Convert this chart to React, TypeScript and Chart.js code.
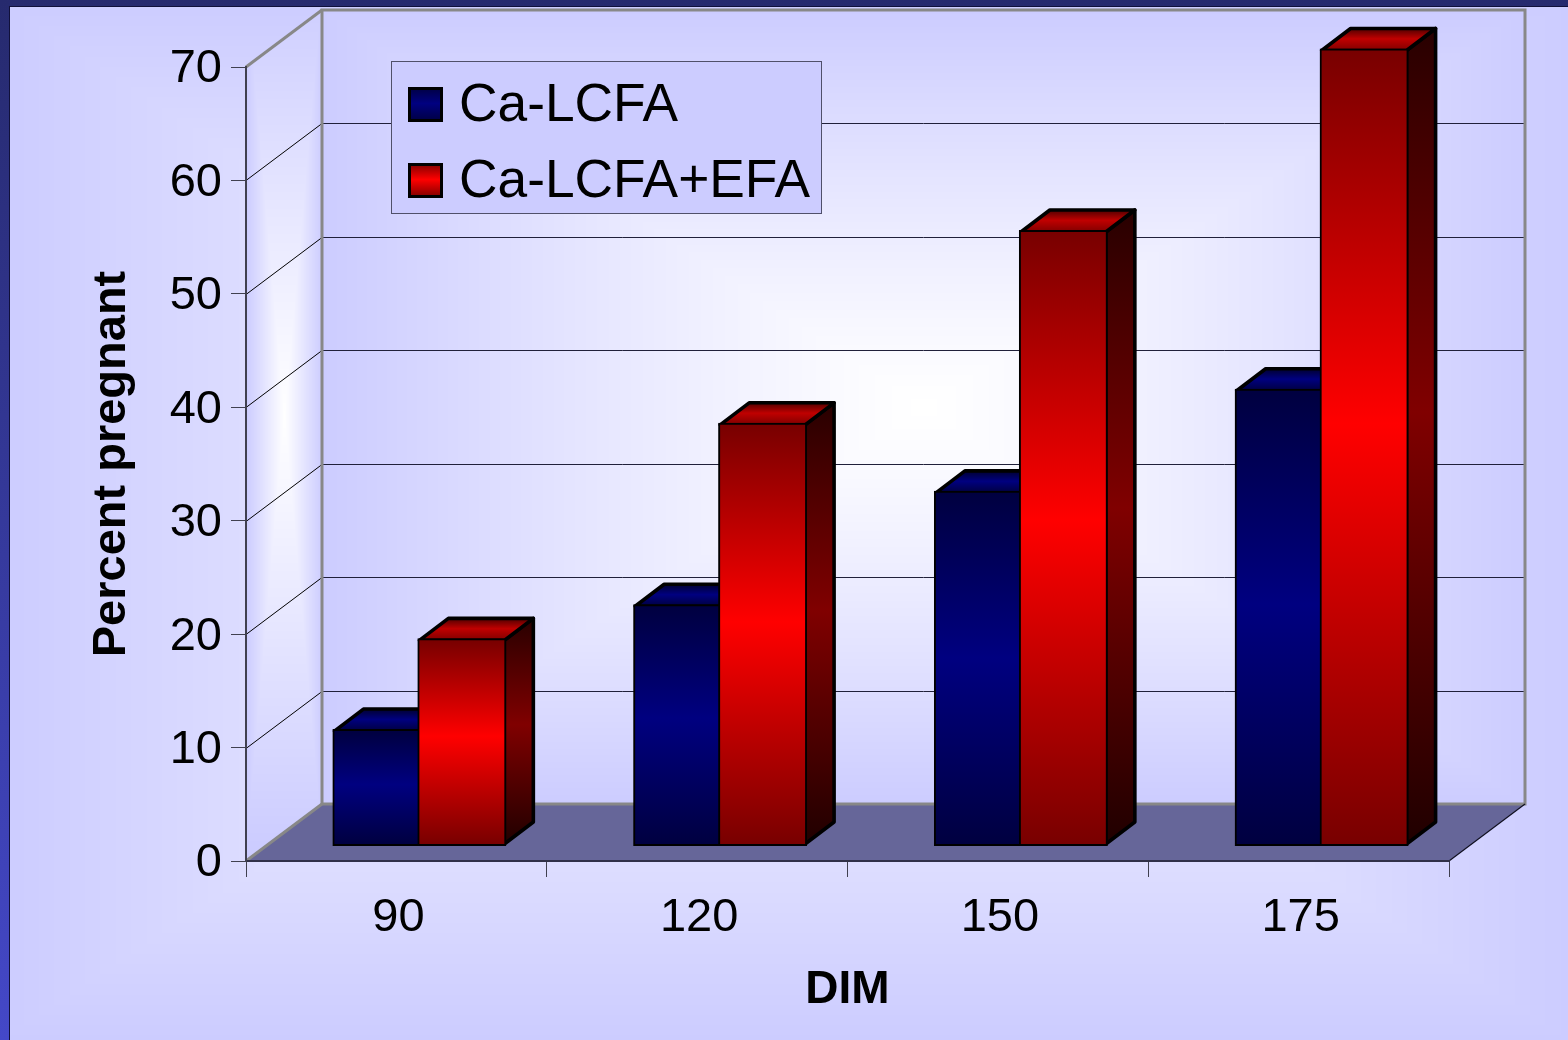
import React, { useEffect, useRef } from "react";
import { Chart, registerables } from "chart.js";

Chart.register(...registerables);

const categories = ["90", "120", "150", "175"];
const caLcfa = [10, 21, 31, 40];
const caLcfaEfa = [18, 37, 54, 70];
const seriesNames = ["Ca-LCFA", "Ca-LCFA+EFA"];
const yAxisTitle = "Percent pregnant";
const xAxisTitle = "DIM";

const FONT = '"Liberation Sans", Arial, sans-serif';
const WALL_DX = 76;
const WALL_DY = -57;
const BAR_SHIFT_X = 23;
const BAR_SHIFT_Y = -16.5;
const BAR_DEPTH_X = 29;
const BAR_DEPTH_Y = -22;
const MID_STOP = 0.47;

const palettes = [
  {
    front: ["#000040", "#000080", "#000040"],
    side: ["#000014", "#000040", "#000010"],
    top: ["#000030", "#000080", "#000040"],
  },
  {
    front: ["#780000", "#ff0000", "#780000"],
    side: ["#280000", "#800000", "#200000"],
    top: ["#500000", "#c00000", "#800000"],
  },
];

function verticalGradient(ctx: CanvasRenderingContext2D, y0: number, y1: number, stops: string[]) {
  const g = ctx.createLinearGradient(0, y0, 0, y1);
  g.addColorStop(0, stops[0]);
  g.addColorStop(MID_STOP, stops[1]);
  g.addColorStop(1, stops[2]);
  return g;
}

function polygon(ctx: CanvasRenderingContext2D, pts: number[][]) {
  ctx.beginPath();
  pts.forEach(([x, y], i) => (i ? ctx.lineTo(x, y) : ctx.moveTo(x, y)));
  ctx.closePath();
}

function line(ctx: CanvasRenderingContext2D, x0: number, y0: number, x1: number, y1: number, color: string, width: number) {
  ctx.strokeStyle = color;
  ctx.lineWidth = width;
  ctx.beginPath();
  ctx.moveTo(x0, y0);
  ctx.lineTo(x1, y1);
  ctx.stroke();
}

// Rectangular "path" gradient: white at the centre, #ccccff at the box edge.
function pathGradient(
  ctx: CanvasRenderingContext2D,
  x: number,
  y: number,
  w: number,
  h: number,
  cx: number,
  cy: number,
  hw: number,
  hh: number,
  falloff = 1,
) {
  const off = document.createElement("canvas");
  off.width = w;
  off.height = h;
  const octx = off.getContext("2d")!;
  const img = octx.createImageData(w, h);
  for (let j = 0; j < h; j++) {
    const ty = Math.abs(y + j - cy) / hh;
    for (let i = 0; i < w; i++) {
      const t = Math.min(1, Math.max(Math.abs(x + i - cx) / hw, ty));
      const v = Math.round(255 - 51 * t ** falloff);
      const p = (j * w + i) * 4;
      img.data[p] = v;
      img.data[p + 1] = v;
      img.data[p + 2] = 255;
      img.data[p + 3] = 255;
    }
  }
  octx.putImageData(img, 0, 0);
  ctx.drawImage(off, x, y);
}

// Slide backdrop: dark frame on the top and left, pale glow in the panel.
function drawBackdrop(ctx: CanvasRenderingContext2D, w: number, h: number) {
  const frame = ctx.createLinearGradient(0, 0, 0, h);
  frame.addColorStop(0, "#262a6e");
  frame.addColorStop(1, "#4448c8");
  ctx.fillStyle = frame;
  ctx.fillRect(0, 0, w, h);
  ctx.fillStyle = "#10103a";
  ctx.fillRect(9, 6, w - 9, h - 6);
  pathGradient(ctx, 10, 7, w - 10, h - 7, 784, 520, 784, 520);
}

const chartFrame = {
  id: "chartFrame",
  beforeDraw(chart: any) {
    const { ctx, width, height } = chart;
    const { y } = chart.scales;
    const { left, right, top, bottom } = chart.chartArea;
    ctx.save();
    drawBackdrop(ctx, width, height);

    const backLeft = left + WALL_DX;
    const backRight = right + WALL_DX;
    const backTop = top + WALL_DY;
    const backBottom = bottom + WALL_DY;

    // Back wall.
    pathGradient(
      ctx,
      backLeft,
      backTop,
      backRight - backLeft,
      backBottom - backTop,
      (backLeft + backRight) / 2,
      (backTop + backBottom) / 2,
      (backRight - backLeft) / 2,
      (backBottom - backTop) / 2,
      1.2,
    );

    // Side wall, clipped to its slanted outline.
    ctx.save();
    polygon(ctx, [[left, top], [backLeft, backTop], [backLeft, backBottom], [left, bottom]]);
    ctx.clip();
    pathGradient(ctx, left, backTop, WALL_DX, bottom - backTop, left + WALL_DX / 2, 415, WALL_DX / 2, 430);
    ctx.restore();

    // Floor.
    polygon(ctx, [[left, bottom], [right, bottom], [backRight, backBottom], [backLeft, backBottom]]);
    ctx.fillStyle = "#666699";
    ctx.fill();

    // Gridlines on both walls, taken from the value axis.
    for (const tick of y.ticks) {
      if (tick.value === 0 || tick.value === y.max) continue;
      const py = Math.round(y.getPixelForValue(tick.value)) + 0.5;
      line(ctx, left, py, backLeft, py + WALL_DY, "#000000", 1);
      line(ctx, backLeft, py + WALL_DY, backRight, py + WALL_DY, "#20203a", 1);
    }

    // Wall outline.
    const gray = "#888888";
    line(ctx, left, top, backLeft, backTop, gray, 3);
    line(ctx, left, bottom, backLeft, backBottom, gray, 3);
    ctx.strokeStyle = gray;
    ctx.lineWidth = 3;
    ctx.strokeRect(backLeft, backTop, right - left, bottom - top);
    line(ctx, right, bottom, backRight, backBottom, "#101020", 1.2);

    // Legend panel.
    ctx.fillStyle = "#ccccff";
    ctx.fillRect(392, 62, 429, 151);
    ctx.strokeStyle = "#50506a";
    ctx.lineWidth = 1;
    ctx.strokeRect(391.5, 61.5, 430, 152);
    ctx.font = `53.3px ${FONT}`;
    ctx.textAlign = "left";
    ctx.textBaseline = "middle";
    chart.data.datasets.forEach((ds: any, i: number) => {
      const sy = 87 + i * 76;
      ctx.fillStyle = "#000000";
      ctx.fillRect(408, sy, 35, 35);
      ctx.fillStyle = verticalGradient(ctx, sy, sy + 35, palettes[i].front);
      ctx.fillRect(411, sy + 3, 29, 29);
      ctx.fillStyle = "#000000";
      ctx.fillText(ds.label, 459, sy + 19);
    });
    ctx.restore();
  },
};

// Bars are painted left to right so each one covers the depth of its neighbour.
const extrudedBars = {
  id: "extrudedBars",
  beforeDatasetsDraw(chart: any) {
    const { ctx } = chart;
    ctx.save();
    ctx.translate(BAR_SHIFT_X, BAR_SHIFT_Y);
    chart.data.datasets.forEach((_: any, i: number) => {
      const meta = chart.getDatasetMeta(i);
      const colors = palettes[i];
      meta.data.forEach((el: any) => {
        const l = el.x - el.width / 2;
        const r = el.x + el.width / 2;
        const t = el.y;
        const b = el.base;
        ctx.lineWidth = 3.6;
        ctx.lineJoin = "round";
        ctx.strokeStyle = "#000000";
        polygon(ctx, [[r, t], [r + BAR_DEPTH_X, t + BAR_DEPTH_Y], [r + BAR_DEPTH_X, b + BAR_DEPTH_Y], [r, b]]);
        ctx.fillStyle = verticalGradient(ctx, t + BAR_DEPTH_Y, b, colors.side);
        ctx.fill();
        ctx.stroke();
        polygon(ctx, [[l, t], [l + BAR_DEPTH_X, t + BAR_DEPTH_Y], [r + BAR_DEPTH_X, t + BAR_DEPTH_Y], [r, t]]);
        ctx.fillStyle = verticalGradient(ctx, t + BAR_DEPTH_Y, t, colors.top);
        ctx.fill();
        ctx.stroke();
      });
      meta.controller.draw();
    });
    ctx.restore();
    return false;
  },
};

function frontFill(i: number) {
  return (c: any) => {
    const { ctx, scales } = c.chart;
    const y0 = scales?.y?.getPixelForValue(c.raw);
    const y1 = scales?.y?.getPixelForValue(0);
    if (!Number.isFinite(y0) || !Number.isFinite(y1)) return palettes[i].front[1];
    return verticalGradient(ctx, y0, y1, palettes[i].front);
  };
}

export default function App() {
  const ref = useRef<HTMLCanvasElement>(null);
  useEffect(() => {
    const chart = new Chart(ref.current!, {
      type: "bar",
      data: {
        labels: categories,
        datasets: [
          { label: seriesNames[0], data: caLcfa, backgroundColor: frontFill(0) },
          { label: seriesNames[1], data: caLcfaEfa, backgroundColor: frontFill(1) },
        ],
      },
      plugins: [chartFrame, extrudedBars],
      options: {
        responsive: false,
        animation: false,
        events: [],
        layout: { padding: { top: 67, right: 119, left: 0, bottom: 0 } },
        categoryPercentage: 0.565,
        barPercentage: 1,
        elements: { bar: { borderColor: "#000000", borderWidth: 2, borderSkipped: false, inflateAmount: 2 } },
        plugins: { legend: { display: false }, tooltip: { enabled: false } },
        scales: {
          x: {
            afterFit: (s: any) => { s.height = 179; },
            grid: { drawOnChartArea: false, color: "#404050", lineWidth: 1, tickLength: 16, offset: true },
            border: { color: "#303048", width: 2 },
            ticks: { color: "#000000", font: { family: FONT, size: 47 }, padding: 13, labelOffset: 2, maxRotation: 0 },
            title: { display: true, text: xAxisTitle, color: "#000000", font: { family: FONT, size: 46, weight: "bold" }, padding: { top: 0, bottom: 22 } },
          },
          y: {
            min: 0,
            max: 70,
            afterFit: (s: any) => { s.width = 246; },
            grid: { drawOnChartArea: false, color: "#404050", lineWidth: 1, tickLength: 15 },
            border: { color: "#404050", width: 2 },
            ticks: { stepSize: 10, color: "#000000", font: { family: FONT, size: 47 }, padding: 9, labelOffset: 2.5 },
            title: { display: true, text: yAxisTitle, color: "#000000", font: { family: FONT, size: 47, weight: "bold" }, padding: { top: 84, bottom: 0 } },
          },
        },
      } as any,
    });
    return () => chart.destroy();
  }, []);
  return (
    <div style={{ position: "fixed", left: 0, top: 0, width: 1568, height: 1040 }}>
      <canvas ref={ref} width={1568} height={1040} style={{ display: "block" }} />
    </div>
  );
}
